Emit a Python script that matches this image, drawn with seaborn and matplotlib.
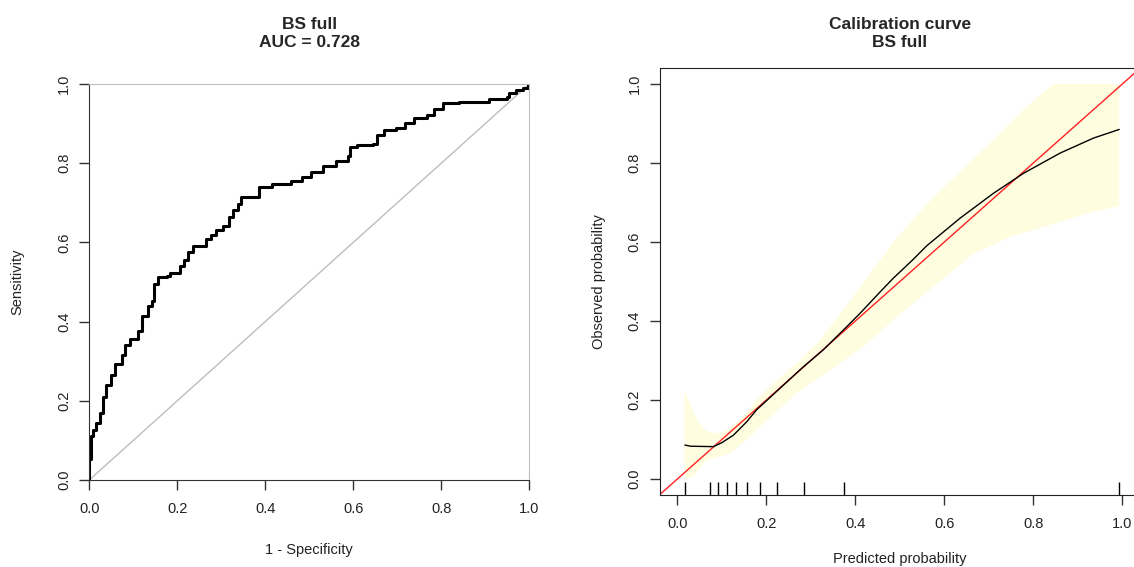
import matplotlib
matplotlib.use("Agg")
import matplotlib.pyplot as plt
import seaborn as sns

# ROC curve (1 - specificity, sensitivity)
fpr = [0, 0, 0.004, 0.008, 0.016, 0.024, 0.031, 0.039, 0.050, 0.058,
       0.074, 0.081, 0.093, 0.111, 0.119, 0.134, 0.142, 0.147, 0.157, 0.176,
       0.184, 0.206, 0.216, 0.224, 0.236, 0.257, 0.265, 0.277, 0.289, 0.305,
       0.317, 0.326, 0.338, 0.346, 0.378, 0.386, 0.415, 0.459, 0.484, 0.504,
       0.532, 0.560, 0.589, 0.593, 0.609, 0.645, 0.653, 0.670, 0.698, 0.718,
       0.738, 0.767, 0.783, 0.803, 0.840, 0.908, 0.949, 0.953, 0.970, 0.986,
       0.998, 1.0]
tpr = [0, 0.052, 0.11, 0.127, 0.143, 0.168, 0.21, 0.24, 0.265, 0.294,
       0.315, 0.34, 0.356, 0.377, 0.415, 0.44, 0.452, 0.494, 0.513, 0.515,
       0.523, 0.54, 0.556, 0.577, 0.591, 0.591, 0.609, 0.620, 0.632, 0.641,
       0.664, 0.682, 0.696, 0.714, 0.714, 0.741, 0.748, 0.755, 0.764, 0.778,
       0.792, 0.805, 0.819, 0.840, 0.847, 0.849, 0.872, 0.883, 0.888, 0.901,
       0.915, 0.921, 0.938, 0.952, 0.954, 0.961, 0.966, 0.977, 0.984, 0.991,
       1.0, 1.0]
auc_text = "AUC = 0.728"
model_name = "BS full"

# calibration curve
cal_x = [0.017, 0.030, 0.081, 0.100, 0.126, 0.156, 0.178, 0.231, 0.283, 0.328,
         0.381, 0.411, 0.456, 0.485, 0.530, 0.560, 0.635, 0.710, 0.778, 0.860,
         0.935, 0.993]
cal_y = [0.086, 0.083, 0.082, 0.092, 0.111, 0.145, 0.175, 0.230, 0.284, 0.327,
         0.386, 0.420, 0.474, 0.508, 0.556, 0.590, 0.660, 0.723, 0.774, 0.825,
         0.863, 0.885]

# confidence band: upper and lower edges
hi_x = [0.016, 0.029, 0.044, 0.060, 0.077, 0.096, 0.111, 0.141, 0.178, 0.216,
        0.268, 0.321, 0.381, 0.456, 0.485, 0.560, 0.635, 0.710, 0.785, 0.845,
        0.993]
band_hi = [0.224, 0.19, 0.149, 0.127, 0.116, 0.117, 0.124, 0.149, 0.2, 0.242,
           0.293, 0.352, 0.44, 0.555, 0.60, 0.695, 0.778, 0.858, 0.943, 1.0,
           1.0]
lo_x = [0.016, 0.036, 0.066, 0.096, 0.118, 0.141, 0.163, 0.193, 0.268, 0.343,
        0.418, 0.493, 0.568, 0.665, 0.748, 0.860, 0.935, 0.993]
band_lo = [0.0, 0.006, 0.048, 0.056, 0.065, 0.086, 0.107, 0.14, 0.217, 0.276,
           0.335, 0.41, 0.48, 0.57, 0.613, 0.651, 0.677, 0.691]

# rug of predicted probabilities (group means)
rug_x = [0.017, 0.073, 0.092, 0.112, 0.131, 0.156, 0.186, 0.224, 0.285, 0.375, 0.993]

ticks = [0.0, 0.2, 0.4, 0.6, 0.8, 1.0]
tick_labels = ["0.0", "0.2", "0.4", "0.6", "0.8", "1.0"]

sns.set_style("white")
plt.rcParams['font.family'] = ['Liberation Sans', 'DejaVu Sans']
txt = "#222222"

fig = plt.figure(figsize=(11.34, 5.67), dpi=100)
ax1 = fig.add_axes([0.0787, 0.1534, 0.388, 0.6984])
ax2 = fig.add_axes([0.5816, 0.1273, 0.4238, 0.7524])

# ---- ROC panel ----
ax1.axline((0, 0), slope=1, color="#bebebe", lw=1)
sns.lineplot(x=fpr, y=tpr, ax=ax1, color="black", lw=2.2, sort=False,
             estimator=None, drawstyle="steps-post")
ax1.set_xlim(0, 1)
ax1.set_ylim(0, 1)
for s in ["left", "bottom"]:
    ax1.spines[s].set_color("#333333")
for s in ["top", "right"]:
    ax1.spines[s].set_color("#bebebe")
ax1.text(0.5, 1.127, model_name + "\n" + auc_text, transform=ax1.transAxes,
         ha="center", va="center", fontsize=12.5, fontweight="bold", linespacing=1.25)
ax1.set_xlabel("1 - Specificity", fontsize=10.5, color=txt, va="center")
ax1.set_ylabel("Sensitivity", fontsize=10.5, color=txt, va="center")
ax1.xaxis.set_label_coords(0.5, -0.177)
ax1.yaxis.set_label_coords(-0.1625, 0.5)

# ---- calibration panel ----
ax2.fill(hi_x + lo_x[::-1], band_hi + band_lo[::-1], color="#fffde0", lw=0)
ax2.axline((0, 0), slope=1, color="#ff2020", lw=1)
sns.lineplot(x=cal_x, y=cal_y, ax=ax2, color="black", lw=1, sort=False, estimator=None)
sns.rugplot(x=rug_x, ax=ax2, height=0.03, color="black", lw=1.2)
ax2.set_xlim(-0.04, 1.04)
ax2.set_ylim(-0.04, 1.04)
for s in ax2.spines.values():
    s.set_color("#222222")
ax2.text(0.5, 1.0807, "Calibration curve\n" + model_name, transform=ax2.transAxes,
         ha="center", va="center", fontsize=12.5, fontweight="bold", linespacing=1.25)
ax2.set_xlabel("Predicted probability", fontsize=10.5, color=txt, va="center")
ax2.set_ylabel("Observed probability", fontsize=10.5, color=txt, va="center")
ax2.xaxis.set_label_coords(0.5, -0.150)
ax2.yaxis.set_label_coords(-0.126, 0.5)

for ax in (ax1, ax2):
    ax.set_xticks(ticks)
    ax.set_xticklabels(tick_labels)
    ax.set_yticks(ticks)
    ax.set_yticklabels(tick_labels)
    ax.tick_params(direction="out", length=7, width=1, color="#333333",
                   labelsize=10.5, labelcolor=txt, bottom=True, left=True)
    ax.tick_params(axis="x", pad=9)
    ax.tick_params(axis="y", pad=6, labelrotation=90)
    for lab in ax.get_yticklabels():
        lab.set_va("center")

fig.savefig("out.png", dpi=100)
